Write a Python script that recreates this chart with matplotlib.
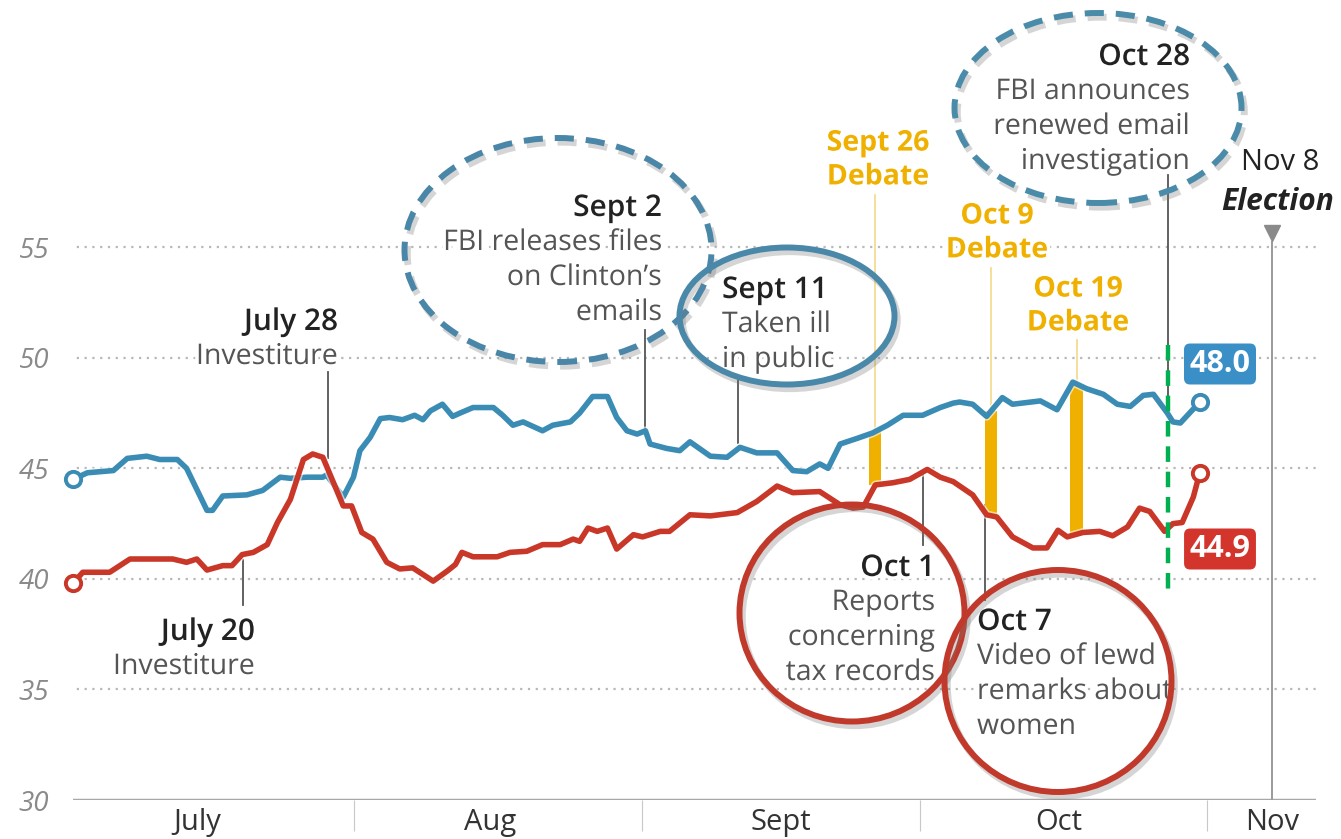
import numpy as np
import matplotlib
matplotlib.use("Agg")
import matplotlib.pyplot as plt
from matplotlib.patches import Ellipse
from matplotlib import patheffects as pe

plt.rcParams["font.family"] = ["Open Sans", "DejaVu Sans"]

# Days since July 1, 2016 and poll values
clinton_days = [0.65, 2.2, 5.0, 6.5, 8.6, 10.0, 11.9, 12.9, 15.1, 15.7, 16.8, 19.4, 21.1,
                23.0, 24.1, 25.9, 27.6, 28.0, 29.8, 30.9, 31.6, 32.7, 33.8, 34.8, 36.2,
                37.5, 38.4, 39.2, 40.5, 41.6, 42.4, 43.8, 46.0, 47.0, 48.1, 49.2, 51.3,
                52.4, 54.3, 55.3, 56.7, 58.3, 59.3, 60.4, 61.5, 62.4, 62.9, 64.7, 66.1,
                67.2, 69.4, 71.2, 72.6, 74.4, 76.6, 78.3, 79.8, 81.2, 82.1, 83.4, 85.2,
                86.9, 88.5, 90.2, 92.3, 94.2, 95.6, 96.3, 97.7, 99.2, 100.9, 102.0, 105.0,
                106.8, 108.5, 110.0, 111.8, 113.3, 114.7, 116.1, 117.2, 118.7, 119.3,
                120.1, 122.2]
clinton = [44.5, 44.8, 44.9, 45.45, 45.55, 45.4, 45.4, 45.0, 43.1, 43.1, 43.75, 43.8, 44.0,
           44.6, 44.55, 44.6, 44.6, 44.7, 43.7, 44.6, 45.8, 46.4, 47.25, 47.3, 47.2,
           47.4, 47.2, 47.6, 47.9, 47.35, 47.5, 47.75, 47.75, 47.4, 46.95, 47.1, 46.7,
           46.95, 47.1, 47.5, 48.25, 48.25, 47.3, 46.7, 46.55, 46.7, 46.1, 45.9, 45.8,
           46.2, 45.55, 45.5, 45.95, 45.7, 45.7, 44.9, 44.85, 45.2, 45.0, 46.1, 46.35,
           46.6, 46.95, 47.4, 47.4, 47.75, 47.95, 48.0, 47.9, 47.35, 48.2, 47.9, 48.05,
           47.65, 48.9, 48.6, 48.35, 47.9, 47.8, 48.3, 48.35, 47.5, 47.1,
           47.05, 48.0]

trump_days = [0.65, 1.7, 4.6, 6.8, 11.4, 12.9, 14.0, 15.1, 16.8, 17.8, 18.9, 20.1, 21.6,
              22.7, 24.1, 25.5, 26.5, 27.6, 29.1, 29.8, 30.7, 31.8, 33.0, 34.5, 35.9,
              37.3, 39.5, 41.0, 41.9, 42.6, 43.8, 46.4, 47.8, 49.6, 51.3, 53.2, 54.6,
              55.3, 56.2, 57.2, 58.3, 59.3, 61.1, 62.1, 64.0, 65.0, 67.2, 69.4, 72.3,
              74.4, 76.6, 78.3, 81.2, 83.4, 84.8, 85.9, 87.2, 89.1, 90.9, 92.8, 94.2,
              95.6, 97.7, 99.2, 100.3, 102.0, 104.2, 105.7, 106.9, 107.9, 109.6, 111.4,
              112.8, 114.4, 115.7, 116.8, 118.4, 119.3, 120.3, 121.5, 122.2]
trump = [39.8, 40.3, 40.3, 40.9, 40.9, 40.75, 40.9, 40.4, 40.6, 40.6, 41.1, 41.2, 41.55,
         42.55, 43.6, 45.4, 45.65, 45.5, 44.0, 43.3, 43.3, 42.1, 41.8, 40.75, 40.45,
         40.5, 39.9, 40.35, 40.65, 41.2, 41.0, 41.0, 41.2, 41.25, 41.55, 41.55, 41.8,
         41.7, 42.3, 42.15, 42.3, 41.35, 42.0, 41.9, 42.15, 42.15, 42.9, 42.85, 43.0,
         43.5, 44.2, 43.9, 43.95, 43.35, 43.2, 43.25, 44.25, 44.35, 44.5, 44.95, 44.6,
         44.4, 43.8, 42.9, 42.8, 41.9, 41.4, 41.4, 42.2, 41.9, 42.1, 42.15,
         41.95, 42.35, 43.2, 43.05, 42.15, 42.5, 42.55, 43.7, 44.8]

clinton_label = "48.0"
trump_label = "44.9"
debate_days = [87.2, 99.7, 108.9]
debate_names = ["Sept 26\nDebate", "Oct 9\nDebate", "Oct 19\nDebate"]
month_names = ["July", "Aug", "Sept", "Oct", "Nov"]
month_label_days = [14, 45.6, 77, 107, 130]
month_edges = [31, 62, 92, 123]
y_ticks = [30, 35, 40, 45, 50, 55]

BLUE = "#3b8cb4"
RED = "#c83728"
GOLD = "#f0b000"
TXT = "#555555"
DARK = "#222222"

W, H = 1341, 839
fig = plt.figure(figsize=(W / 100, H / 100), dpi=100)
ax = fig.add_axes([73 / W, 39 / H, (1316 - 73) / W, 800 / H])
ax.set_xlim((73 - 67) / 9.27, (1316 - 67) / 9.27)
ax.set_ylim(30, 30 + 800 / 22.11)
for s in ax.spines.values():
    s.set_visible(False)


def P(x, y):
    # pixel position of the reference -> data coords
    return (x - 67) / 9.27, 30 + (800 - y) / 22.11


# grid and axis
for v in y_ticks[1:]:
    ax.axhline(v, color="#b8b8b8", lw=1.6, ls=(0, (1, 2.5)), zorder=0, xmin=-0.003)
ax.axhline(30, color="#a8a8a8", lw=2.5, zorder=1)
ax.set_yticks(y_ticks)
ax.set_yticklabels([str(v) for v in y_ticks])
ax.tick_params(axis="y", length=0, pad=17, labelsize=20, labelcolor="#8a8a8a")
for t in ax.get_yticklabels():
    t.set_fontstyle("italic")
ax.set_xticks(month_label_days)
ax.set_xticklabels(month_names)
ax.set_xticks(month_edges, minor=True)
ax.tick_params(axis="x", which="major", length=0, pad=6, labelsize=21, labelcolor="#333333")
ax.tick_params(axis="x", which="minor", length=22, width=0.8, color="#c8c8c8")

# election line
ex, ey = P(1272, 242)
ax.plot([ex, ex], [30, ey], color="#9a9a9a", lw=1.4, zorder=1)
ax.plot([ex], [P(1272, 233)[1]], marker="v", ms=11, color="#8a8a8a", clip_on=False, zorder=3)

# leader lines for events
leaders = [(328, 372, 458), (243, 560, 605), (645, 330, 428), (738, 378, 443),
           (923, 470, 545), (985, 505, 600), (1168, 175, 402)]
for x, y0, y1 in leaders:
    d, a = P(x, y0)
    _, b = P(x, y1)
    ax.plot([d, d], [a, b], color="#555555", lw=1.3, zorder=2)

# debate leaders and bars
for x, y0 in zip(debate_days, [195, 268, 340]):
    top = P(0, y0)[1]
    ax.plot([x, x], [top, np.interp(x, clinton_days, clinton)], color="#f3d98a", lw=1.2, zorder=2)
c_at = np.interp(debate_days, clinton_days, clinton)
t_at = np.interp(debate_days, trump_days, trump)
ax.bar(debate_days, c_at - t_at, bottom=t_at, width=1.3, color=GOLD, zorder=3)

# poll lines
halo = [pe.Stroke(linewidth=6.2, foreground="white", alpha=0.6), pe.Normal()]
ax.plot(clinton_days, clinton, color=BLUE, lw=4, zorder=4, solid_joinstyle="round",
        path_effects=halo, clip_on=False)
ax.plot(trump_days, trump, color=RED, lw=4, zorder=4, solid_joinstyle="round",
        path_effects=halo, clip_on=False)
for dd, vv, col in [(clinton_days, clinton, BLUE), (trump_days, trump, RED)]:
    ax.plot([dd[0], dd[-1]], [vv[0], vv[-1]], "o", ms=11, mfc="white", mec=col, mew=2.8,
            zorder=5, clip_on=False)

# Oct 28 green marker
gx, gy0 = P(1168, 345)
ax.plot([gx, gx], [gy0, P(1168, 590)[1]], color="#00b050", lw=3.2, ls=(0, (3.5, 2.2)), zorder=6)

# end labels
for text, y, col in [(clinton_label, 364, "#3a8fc6"), (trump_label, 549, "#d3342b")]:
    ax.text(*P(1220, y), text, ha="center", va="center", color="white", fontsize=22,
            fontweight="bold", zorder=7,
            bbox=dict(boxstyle="round,pad=0.18,rounding_size=0.2", fc=col, ec="none"))

knock = [pe.withStroke(linewidth=5, foreground="white")]


def note(x, y, head, body, ha):
    ax.text(*P(x, y), head, ha=ha, va="center", fontsize=21.5, fontweight="semibold",
            color=DARK, zorder=8, clip_on=False, path_effects=knock)
    for i, line in enumerate(body):
        ax.text(*P(x, y + 35 * (i + 1)), line, ha=ha, va="center", fontsize=20.5,
                color=TXT, zorder=8, clip_on=False, path_effects=knock)


note(338, 322, "July 28", ["Investiture"], "right")
note(255, 632, "July 20", ["Investiture"], "right")
note(662, 208, "Sept 2", ["FBI releases files", "on Clinton\u2019s", "emails"], "right")
note(722, 290, "Sept 11", ["Taken ill", "in public"], "left")
note(1190, 57, "Oct 28", ["FBI announces", "renewed email", "investigation"], "right")
note(935, 568, "Oct 1", ["Reports", "concerning", "tax records"], "right")
note(977, 622, "Oct 7", ["Video of lewd", "remarks about", "women"], "left")

for name, x, y in zip(debate_names, [878, 997, 1078], [160, 233, 306]):
    ax.text(*P(x, y), name, ha="center", va="center", fontsize=20.5, fontweight="bold",
            color=GOLD, linespacing=1.22, zorder=8, path_effects=knock)

ax.text(*P(1280, 163), "Nov 8", ha="center", va="center", fontsize=21, color=DARK, zorder=8)
ax.text(*P(1278, 202), "Election", ha="center", va="center", fontsize=21.5, color=DARK,
        fontweight="bold", fontstyle="italic", zorder=8, clip_on=False)

# highlight ellipses
shadow = [pe.Stroke(offset=(2, -3), linewidth=5, foreground="#777777", alpha=0.3), pe.Normal()]
ellipses = [(558, 250, 307, 224, "#4a86a8", "dashed"),
            (1098, 108, 287, 190, "#4a8baa", "dashed"),
            (787, 316, 215, 137, "#4a88aa", "solid"),
            (852, 613, 225, 217, "#c0392b", "solid"),
            (1058, 681, 227, 222, "#c0392b", "solid")]
for x, y, w, h, col, st in ellipses:
    cx, cy = P(x, y)
    ls = (0, (3.2, 2.0)) if st == "dashed" else "-"
    e = Ellipse((cx, cy), w / 9.27, h / 22.11, fill=False, ec=col, lw=4.3, ls=ls,
                zorder=9, clip_on=False, path_effects=shadow)
    ax.add_patch(e)

fig.savefig("out.png", dpi=100)
